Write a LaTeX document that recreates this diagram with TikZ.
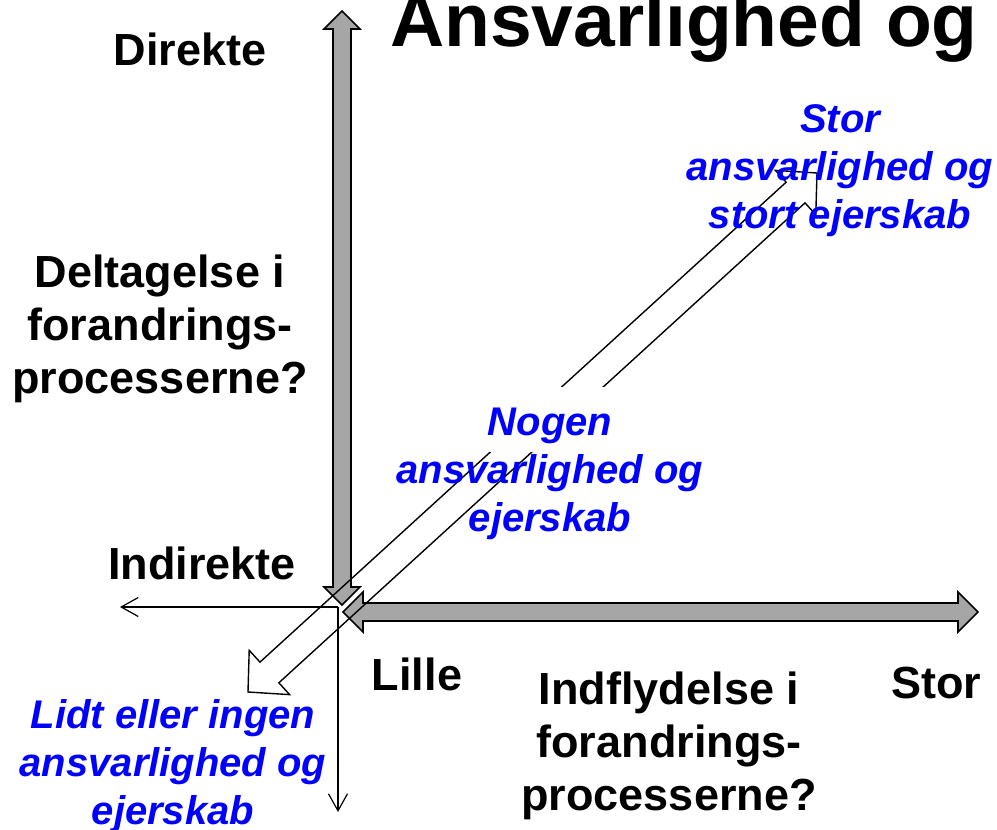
\documentclass[tikz,border=0pt]{standalone}
\usepackage{fontspec}
\setmainfont{Liberation Sans}
\usetikzlibrary{arrows.meta,calc}
\definecolor{axisgray}{RGB}{166,166,166}
\definecolor{labelblue}{RGB}{0,0,255}
\begin{document}
\begin{tikzpicture}[x=1pt,y=-1pt,
  blockarrow/.style={draw=black,line width=1.6pt,fill=axisgray,line join=miter},
  outlinearrow/.style={draw=black,line width=1.4pt,line join=miter},
  thinarrow/.style={draw=black,line width=1.2pt,-{Straight Barb[length=17pt,width=19pt,line width=1.2pt]}},
  axislabel/.style={font=\fontsize{45}{53}\selectfont\bfseries,inner sep=0pt,align=center},
  zonelabel/.style={font=\fontsize{40}{48}\selectfont\bfseries\itshape,text=labelblue,inner sep=0pt,align=center},
]
\useasboundingbox (0,0) rectangle (997,830);
\clip (0,0) rectangle (997,830);

% heading, partly above the top edge
\node[anchor=base west,inner sep=0pt,font=\fontsize{75}{90}\selectfont\bfseries] (title) at (390,46) {Ansvarlighed og};

% vertical double block arrow (participation axis)
\coordinate (vtop) at (342,11);
\coordinate (vbot) at (342,605);
\draw[blockarrow] (vtop) -- ($(vtop)+(18,18)$) -- ($(vtop)+(9,18)$) -- ($(vbot)+(9,-18)$)
  -- ($(vbot)+(18,-18)$) -- (vbot) -- ($(vbot)+(-18,-18)$) -- ($(vbot)+(-9,-18)$)
  -- ($(vtop)+(-9,18)$) -- ($(vtop)+(-18,18)$) -- cycle;

% horizontal double block arrow (influence axis)
\coordinate (hleft) at (343,612);
\coordinate (hright) at (978,612);
\draw[blockarrow] (hleft) -- ($(hleft)+(20,-20)$) -- ($(hleft)+(20,-9)$) -- ($(hright)+(-20,-9)$)
  -- ($(hright)+(-20,-20)$) -- (hright) -- ($(hright)+(-20,20)$) -- ($(hright)+(-20,9)$)
  -- ($(hleft)+(20,9)$) -- ($(hleft)+(20,20)$) -- cycle;

% thin arrows out of the corner
\coordinate (corner) at (338,607);
\coordinate (leftend) at (120,607);
\coordinate (downend) at (338,812);
\draw[thinarrow] (corner) -- (leftend);
\draw[thinarrow] (corner) -- (downend);

% diagonal outline double arrow
\coordinate (dA) at (248,692);
\coordinate (dB) at (817,173);
\coordinate (m1) at ($(dA)!29pt!(dB)$);
\coordinate (m2) at ($(dB)!29pt!(dA)$);
\draw[outlinearrow] (dA) -- ($(m1)!30pt!90:(dB)$) -- ($(m1)!14pt!90:(dB)$)
  -- ($(m2)!14pt!-90:(dA)$) -- ($(m2)!30pt!-90:(dA)$) -- (dB)
  -- ($(m2)!30pt!90:(dA)$) -- ($(m2)!14pt!90:(dA)$)
  -- ($(m1)!14pt!-90:(dB)$) -- ($(m1)!30pt!-90:(dB)$) -- cycle;

% white panel behind the middle label
\fill[white] (455,387) rectangle (645,452);

% zone labels
\node[zonelabel] (high) at (840,171) {Stor\\ansvarlighed og\\stort ejerskab};
\node[zonelabel] (some) at (550,474) {Nogen\\ansvarlighed og\\ejerskab};
\node[zonelabel] (low) at (173,766) {Lidt eller ingen\\ansvarlighed og\\ejerskab};

% axis labels
\node[axislabel,anchor=base] (direct) at (190,65) {Direkte};
\node[axislabel] (participation) at (160,329) {Deltagelse i\\forandrings-\\processerne?};
\node[axislabel,anchor=base] (indirect) at (202,579) {Indirekte};
\node[axislabel,anchor=base] (small) at (417,690) {Lille};
\node[axislabel,anchor=base] (large) at (936,698) {Stor};
\node[axislabel] (influence) at (669,746) {Indflydelse i\\forandrings-\\processerne?};
\end{tikzpicture}
\end{document}
